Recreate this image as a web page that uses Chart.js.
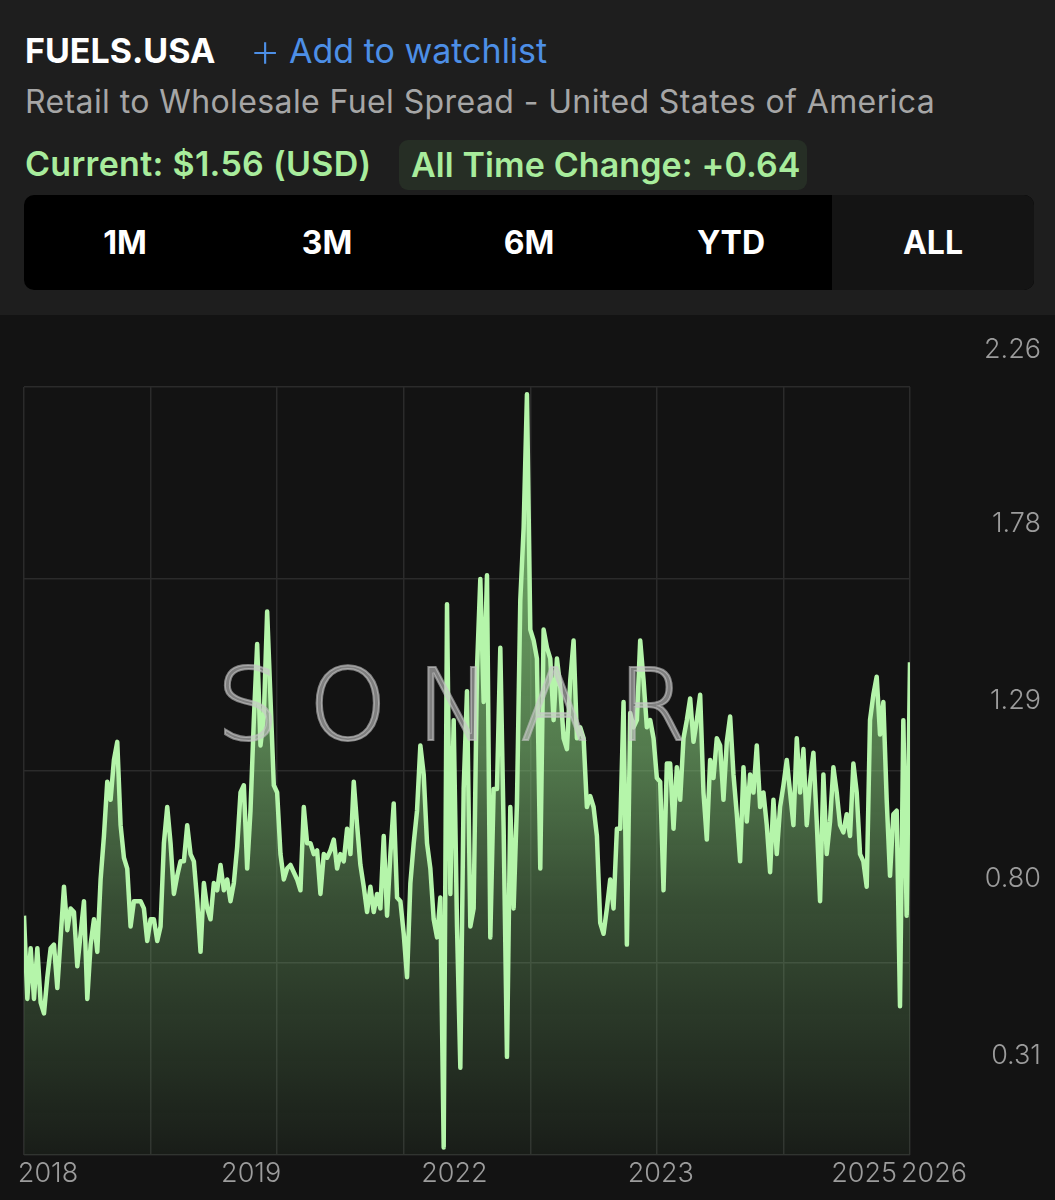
<!DOCTYPE html>
<html>
<head>
<meta charset="utf-8">
<script src="https://cdn.jsdelivr.net/npm/chart.js@4.4.1/dist/chart.umd.min.js"></script>
<style>
html,body{margin:0;padding:0;width:1055px;height:1200px;overflow:hidden;background:#131313;font-family:Inter,"Noto Sans",sans-serif;}
#header{position:absolute;left:0;top:0;width:1055px;height:315px;background:#1e1e1e;}
.t{position:absolute;white-space:nowrap;line-height:1;}
#sym{left:25px;top:34px;font-size:34px;font-weight:700;color:#ffffff;}
#plus{left:249px;top:24px;font-size:50px;font-weight:200;color:#4d8fe6;}
#watch{left:289px;top:34px;font-size:34px;font-weight:400;color:#4d8fe6;}
#sub{left:25px;top:86px;font-size:32px;font-weight:400;letter-spacing:0.4px;color:#a6a6a6;}
#cur{left:25px;top:147px;font-size:34px;font-weight:600;letter-spacing:0.3px;color:#a8ec9c;}
#badge{position:absolute;left:399px;top:140px;width:408px;height:50px;background:#262e25;border-radius:9px;}
#chg{left:411px;top:148px;font-size:34px;font-weight:600;letter-spacing:0.1px;color:#a8ec9c;}
#seg{position:absolute;left:24px;top:195px;width:1010px;height:95px;background:#000;border-radius:10px;display:flex;overflow:hidden;}
#seg div{flex:1;display:flex;align-items:center;justify-content:center;color:#fff;font-weight:700;font-size:32px;line-height:1;}
#seg div.sel{background:#141414;}
#wrap{position:absolute;left:0;top:315px;width:1055px;height:885px;}
#wm{position:absolute;left:216px;top:656px;font-family:"DejaVu Sans";font-weight:200;font-size:100px;line-height:100px;letter-spacing:29px;color:rgba(200,200,200,0.6);-webkit-text-stroke:2px rgba(200,200,200,0.6);white-space:nowrap;pointer-events:none;}
</style>
</head>
<body>
<div id="header">
  <div class="t" id="sym">FUELS.USA</div>
  <div class="t" id="plus">+</div>
  <div class="t" id="watch">Add to watchlist</div>
  <div class="t" id="sub">Retail to Wholesale Fuel Spread - United States of America</div>
  <div class="t" id="cur">Current: $1.56 (USD)</div>
  <div id="badge"></div>
  <div class="t" id="chg">All Time Change: +0.64</div>
  <div id="seg"><div>1M</div><div>3M</div><div>6M</div><div>YTD</div><div class="sel">ALL</div></div>
</div>
<div id="wrap"><canvas id="c" width="1055" height="885"></canvas></div>
<div id="wm">SONAR</div>
<script>
const spread = [
  0.80,0.57,0.71,0.57,0.71,0.56,0.53,0.63,0.71,0.72,
  0.60,0.74,0.88,0.76,0.82,0.81,0.66,0.75,0.84,0.57,
  0.72,0.79,0.70,0.90,1.02,1.17,1.12,1.23,1.28,1.05,
  0.96,0.93,0.77,0.84,0.84,0.84,0.82,0.73,0.79,0.79,
  0.73,0.77,1.00,1.10,1.00,0.86,0.91,0.95,0.95,1.05,
  0.97,0.95,0.84,0.70,0.89,0.82,0.79,0.89,0.87,0.94,
  0.87,0.90,0.84,0.89,0.99,1.14,1.16,0.93,1.09,1.34,
  1.55,1.27,1.35,1.64,1.40,1.16,1.14,0.97,0.90,0.93,
  0.94,0.92,0.90,0.87,1.10,1.00,1.00,0.97,0.98,0.86,
  0.97,0.96,0.98,1.01,0.93,0.97,0.95,1.04,0.97,1.17,
  1.05,0.94,0.88,0.81,0.88,0.81,0.86,0.82,1.02,0.80,
  0.97,1.11,0.85,0.84,0.75,0.63,0.89,1.00,1.09,1.27,
  1.19,1.00,0.93,0.79,0.74,0.85,0.16,1.66,0.86,1.34,
  0.77,0.38,1.15,1.42,0.77,0.82,1.48,1.73,1.39,1.74,
  0.74,1.15,1.15,1.54,1.04,0.41,1.10,0.82,1.11,1.67,
  1.87,2.24,1.59,1.56,1.51,0.93,1.59,1.54,1.51,1.34,
  1.51,1.43,1.29,1.26,1.45,1.56,1.29,1.32,1.29,1.10,
  1.13,1.10,1.02,0.78,0.75,0.82,0.90,0.82,1.04,1.04,
  1.39,0.72,1.36,1.32,1.34,1.56,1.45,1.32,1.34,1.29,
  1.18,1.17,0.87,1.22,1.22,1.04,1.21,1.12,1.29,1.34,
  1.40,1.28,1.34,1.41,1.14,1.01,1.23,1.18,1.29,1.27,
  1.12,1.28,1.35,1.19,1.08,0.95,1.21,1.06,1.19,1.14,
  1.27,1.10,1.14,1.05,0.92,1.12,0.97,1.10,1.16,1.23,
  1.14,1.05,1.29,1.14,1.26,1.05,1.17,1.25,1.06,0.84,
  1.19,0.97,1.06,1.21,1.14,1.05,1.03,1.08,1.02,1.22,
  1.14,0.97,0.95,0.88,1.34,1.41,1.46,1.30,1.39,1.12,
  0.91,1.08,1.09,0.55,1.34,0.80,1.50
];
const yearLabels = ['2018','2019','2022','2023','2025','2026'];
const yearTickIndex = [0, 61, 122, 184, 245, 266];
const yTickLabels = [0.31, 0.80, 1.29, 1.78, 2.26];
const yMin = 0.139, yMax = 2.26;

const N = spread.length;
const points = spread.map((v, i) => ({x: i, y: v}));
const gridColor = '#2b2b2b';
const labelColor = '#9c9c9c';
const labelFont = {family: 'Inter', size: 27, weight: '300'};

new Chart(document.getElementById('c'), {
  type: 'line',
  data: {
    datasets: [{
      data: points,
      borderColor: '#b5f5aa',
      borderWidth: 4.5,
      pointRadius: 0,
      tension: 0,
      borderJoinStyle: 'round',
      fill: 'start',
      backgroundColor: (c) => {
        const {ctx, chartArea} = c.chart;
        if (!chartArea) return 'rgba(0,0,0,0)';
        const g = ctx.createLinearGradient(0, chartArea.top, 0, chartArea.bottom);
        g.addColorStop(0, 'rgba(131,199,121,0.95)');
        g.addColorStop(0.47, 'rgba(131,199,121,0.58)');
        g.addColorStop(0.67, 'rgba(131,199,121,0.33)');
        g.addColorStop(1, 'rgba(131,199,121,0.06)');
        return g;
      }
    }]
  },
  options: {
    responsive: false,
    animation: false,
    devicePixelRatio: 1,
    layout: {padding: {left: 24, top: 72, right: 14, bottom: 0}},
    plugins: {legend: {display: false}, tooltip: {enabled: false}},
    scales: {
      x: {
        type: 'linear', position: 'bottom', min: 0, max: N - 1,
        afterBuildTicks: s => { s.ticks = [0,1,2,3,4,5,6,7].map(k => ({value: k * (N - 1) / 7})); },
        ticks: {display: false},
        grid: {color: gridColor, lineWidth: 1.5, drawTicks: false},
        border: {display: false},
        afterFit: s => { s.height = 0; s.paddingLeft = 0; s.paddingRight = 0; }
      },
      xl: {
        type: 'linear', position: 'bottom', min: 0, max: N - 1,
        afterBuildTicks: s => { s.ticks = yearTickIndex.map(v => ({value: v})); },
        ticks: {
          callback: (v, i) => yearLabels[i],
          color: labelColor, font: labelFont, labelOffset: 24, padding: 3,
          maxRotation: 0, minRotation: 0, autoSkip: false
        },
        grid: {display: false, drawTicks: false},
        border: {display: false},
        afterFit: s => { s.height = 45; s.paddingLeft = 0; s.paddingRight = 0; }
      },
      y: {
        type: 'linear', position: 'right', min: yMin, max: yMax,
        afterBuildTicks: s => { s.ticks = [0,1,2,3,4].map(k => ({value: yMin + k * (yMax - yMin) / 4})); },
        ticks: {display: false},
        grid: {color: gridColor, lineWidth: 1.5, drawTicks: false},
        border: {display: false},
        afterFit: s => { s.width = 0; s.paddingTop = 0; s.paddingBottom = 0; }
      },
      yl: {
        type: 'linear', position: 'right', min: yMin, max: yMax,
        afterBuildTicks: s => { s.ticks = yTickLabels.map(v => ({value: v})); },
        ticks: {
          callback: v => v.toFixed(2),
          color: labelColor, font: labelFont, labelOffset: -37,
          crossAlign: 'far', padding: 10
        },
        grid: {display: false, drawTicks: false},
        border: {display: false},
        afterFit: s => { s.width = 131; s.paddingTop = 0; s.paddingBottom = 0; }
      }
    }
  }
});
</script>
</body>
</html>
